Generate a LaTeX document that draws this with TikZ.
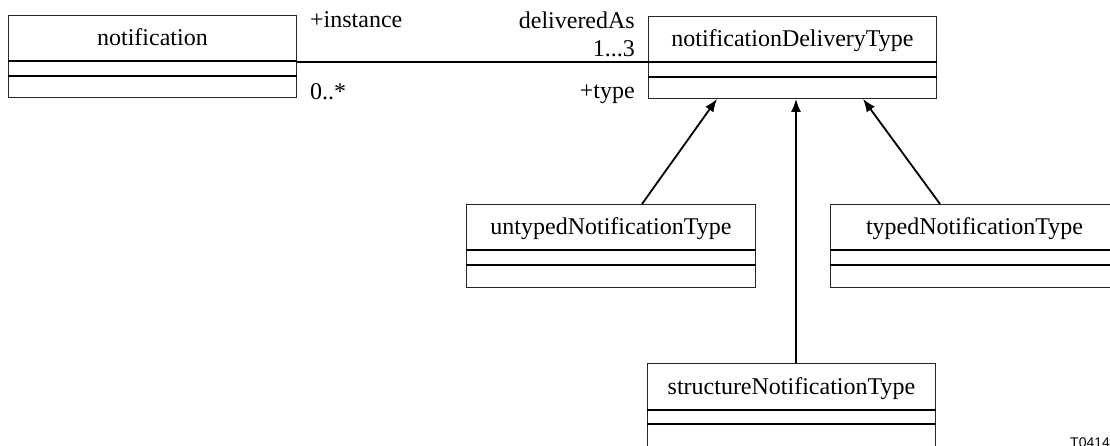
\documentclass[tikz,border=0pt]{standalone}
\usepackage{fontspec}
\setmainfont{Liberation Serif}
\setsansfont{Liberation Sans}
\usetikzlibrary{calc,arrows.meta}
\tikzset{
  cls/.style={draw=black!85, line width=0.9pt, anchor=north west, inner sep=0pt, rectangle},
  ctitle/.style={anchor=base, inner sep=0pt, font=\fontsize{24pt}{28pt}\selectfont},
  comp/.style={line width=2pt},
  assoc/.style={line width=1.5pt},
  gen/.style={line width=1.8pt, -{Latex[length=13pt,width=10pt]}},
  rolelbl/.style={inner sep=0pt, font=\fontsize{24pt}{28pt}\selectfont},
}
\newcommand\umlclass[6]{%
  \node[cls, minimum width=#4pt, minimum height=#5pt] (#1) at (#2,#3) {};
  \node[ctitle] (#1-t) at ($(#1.north)+(0,31)$) {#6};
  \draw[comp] ($(#1.north west)+(0,46.5)$) -- ($(#1.north east)+(0,46.5)$);
  \draw[comp] ($(#1.north west)+(0,61)$) -- ($(#1.north east)+(0,61)$);
}
\begin{document}
\begin{tikzpicture}[x=1pt,y=-1pt]
\useasboundingbox (0,0) rectangle (1110,446);
\clip (0,0) rectangle (1110,446);
\fill[white] (0,0) rectangle (1110,446);

\umlclass{notif}{8}{15}{288}{82}{notification}
\umlclass{ndt}{648}{16}{288}{82}{notificationDeliveryType}
\umlclass{untyped}{466}{204}{289}{83}{untypedNotificationType}
\umlclass{typed}{830}{204}{288}{83}{typedNotificationType}
\umlclass{struct}{647}{363}{288}{100}{structureNotificationType}

% association
\draw[assoc] ($(notif.north east)+(0,47)$) -- ($(ndt.north west)+(0,46)$);
\node[rolelbl, anchor=base west] (l-inst) at (310,28) {+instance};
\node[rolelbl, anchor=base west] (l-mult0) at (310,100) {0..*};
\node[rolelbl, anchor=base east] (l-deliv) at (635,29) {deliveredAs};
\node[rolelbl, anchor=base east] (l-mult1) at (635,57) {1...3};
\node[rolelbl, anchor=base east] (l-type) at (635,99) {+type};

% generalizations
\draw[gen] ($(untyped.north west)+(176,0)$) -- ($(ndt.south west)+(69,0)$);
\draw[gen] ($(struct.north west)+(149,0)$) -- ($(ndt.south west)+(148,0)$);
\draw[gen] ($(typed.north west)+(110,0)$) -- ($(ndt.south west)+(215,0)$);

\node[anchor=base west, inner sep=0pt, font=\sffamily\fontsize{14pt}{16pt}\selectfont] (tag) at (1070,447) {T0414};
\end{tikzpicture}
\end{document}
